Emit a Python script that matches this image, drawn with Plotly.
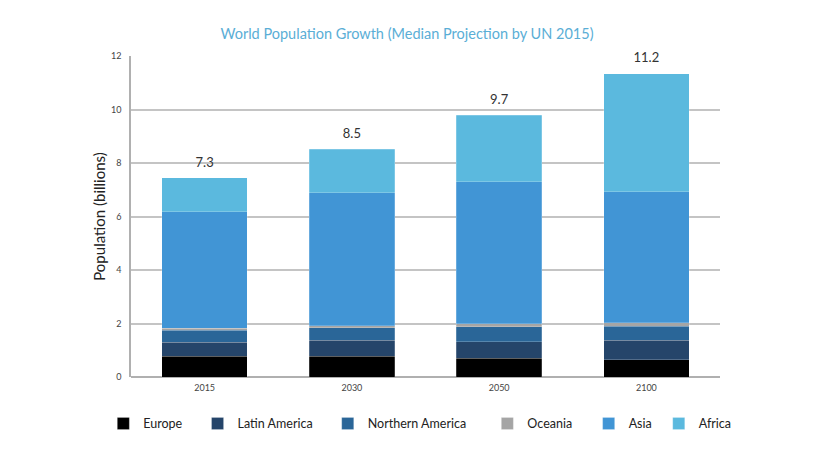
import plotly.graph_objects as go

# values, billions
years = ["2015", "2030", "2050", "2100"]
europe = [0.77, 0.77, 0.70, 0.65]
latin_america = [0.52, 0.60, 0.62, 0.72]
northern_america = [0.46, 0.47, 0.55, 0.53]
oceania = [0.07, 0.08, 0.13, 0.12]
asia = [4.35, 4.96, 5.29, 4.90]
africa = [1.27, 1.64, 2.50, 4.42]
total_labels = ["7.3", "8.5", "9.7", "11.2"]

series = [
    ("Europe", europe, "#000000"),
    ("Latin America", latin_america, "#25456a"),
    ("Northern America", northern_america, "#2a6698"),
    ("Oceania", oceania, "#a5a5a5"),
    ("Asia", asia, "#4195d5"),
    ("Africa", africa, "#5bb9de"),
]

# one legend box per region so the spacing follows the original
legend_x = [-0.047, 0.113, 0.334, 0.605, 0.777, 0.896]


def main():
    fig = go.Figure()
    legends = {}
    for i, (name, values, color) in enumerate(series):
        key = "legend" if i == 0 else "legend%d" % (i + 1)
        fig.add_trace(
            go.Bar(
                x=years,
                y=values,
                name=name,
                legend=key,
                marker=dict(color=color, line=dict(color="rgba(255,255,255,0.35)", width=0.6)),
            )
        )
        legends[key] = dict(
            orientation="h",
            x=legend_x[i],
            xanchor="left",
            y=-0.146,
            yanchor="middle",
            font=dict(size=12.5, color="#222222"),
            bgcolor="rgba(0,0,0,0)",
        )

    # total labels above each stack
    totals = [sum(v[i] for _, v, _ in series) for i in range(len(years))]
    fig.add_trace(
        go.Scatter(
            x=years,
            y=[t + 0.3 for t in totals],
            mode="text",
            text=total_labels,
            textposition="top center",
            textfont=dict(size=13, color="#333333"),
            cliponaxis=False,
            showlegend=False,
            hoverinfo="skip",
        )
    )

    fig.update_layout(
        barmode="stack",
        bargap=0.42,
        width=815,
        height=459,
        paper_bgcolor="white",
        plot_bgcolor="white",
        font=dict(family="Lato, sans-serif", color="#333333"),
        margin=dict(l=123, r=103, t=48, b=90),
        title=dict(
            text="World Population Growth (Median Projection by UN 2015)",
            x=0.4896,
            xanchor="center",
            y=0.943,
            yanchor="middle",
            font=dict(size=14.5, color="#5aaed6"),
        ),
        showlegend=True,
        **legends,
    )
    fig.update_xaxes(
        type="category",
        showline=False,
        ticks="",
        tickfont=dict(size=9, color="#444444"),
        ticklabelstandoff=4,
        range=[-0.5, 3.5],
    )
    fig.update_yaxes(
        range=[0, 12],
        dtick=2,
        showgrid=True,
        gridcolor="#c4c4c4",
        gridwidth=1.5,
        showline=True,
        linecolor="#b0b0b0",
        linewidth=1.5,
        zeroline=True,
        zerolinecolor="#b0b0b0",
        zerolinewidth=1.5,
        tickfont=dict(size=9, color="#444444"),
        ticklabelstandoff=6,
        title=dict(text="Population (billions)", font=dict(size=15, color="#222222"), standoff=2),
    )

    fig.write_html("out.html")


if __name__ == "__main__":
    main()
